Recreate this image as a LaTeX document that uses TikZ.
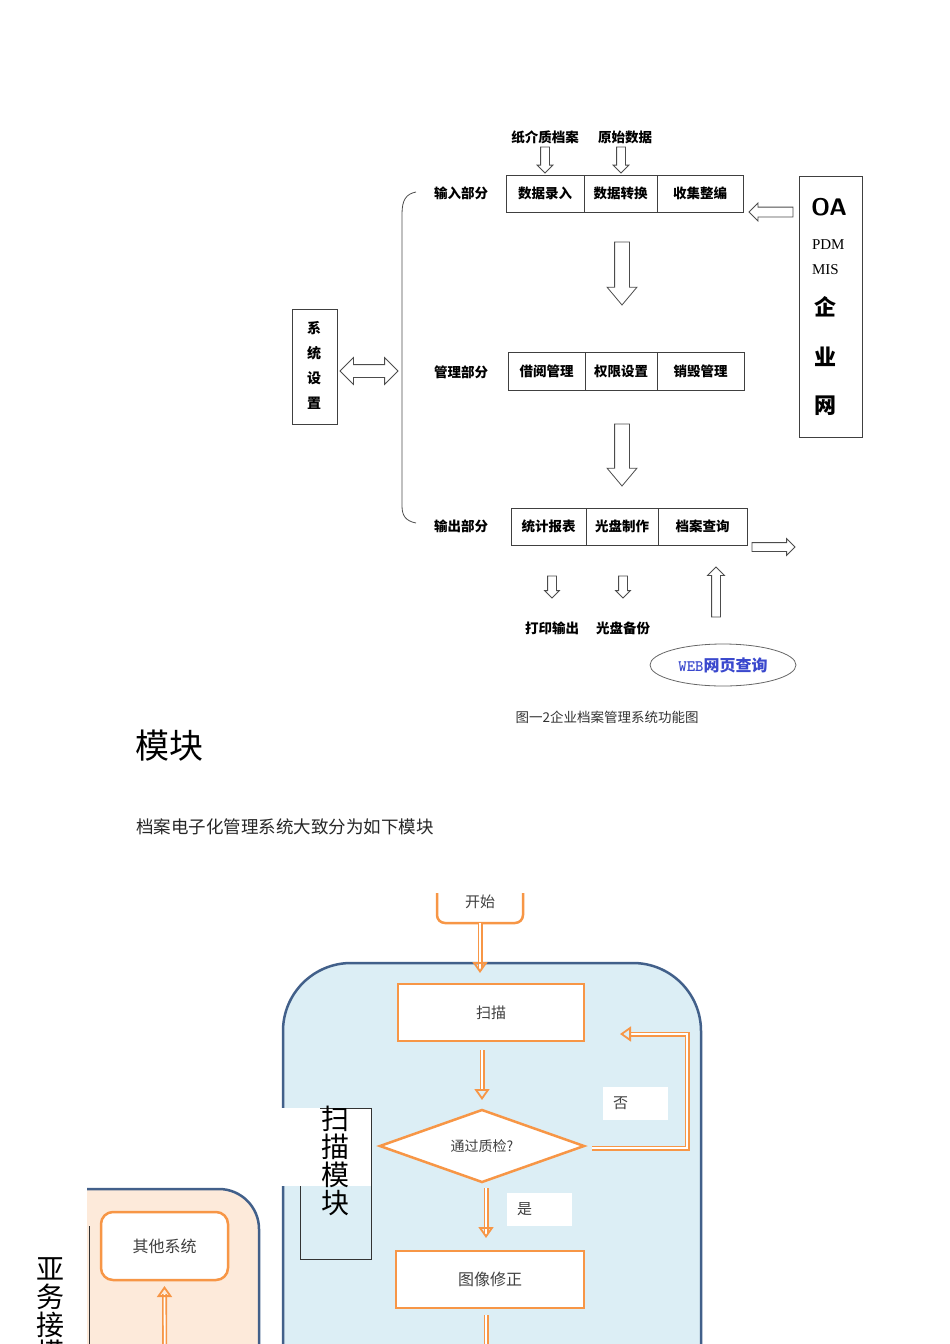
\documentclass[tikz,border=0pt]{standalone}
\usepackage{fontspec}
\setmainfont{Noto Sans CJK SC}
\newfontfamily\latinserif{Liberation Serif}
\usetikzlibrary{arrows.meta, positioning, shapes.arrows, shapes.geometric}

\definecolor{flowOrange}{RGB}{247,150,70}
\definecolor{moduleBlue}{RGB}{220,238,245}
\definecolor{moduleEdge}{RGB}{66,96,138}
\definecolor{modulePink}{RGB}{253,234,218}
\definecolor{webBlue}{RGB}{58,72,205}

\newcommand{\fsz}[1]{\fontsize{#1}{#1}\selectfont}

\begin{document}
\begin{tikzpicture}[
        x = 1pt, y = -1pt,
        every node/.style = {inner sep = 0pt, outer sep = 0pt},
        cell/.style = {draw = black!75, thick, minimum height = 37pt, font = \fsz{13.5}\bfseries},
        part/.style = {font = \fsz{13.5}\bfseries},
        hollow/.style 2 args = {single arrow, draw = black!70, thick, fill = white,
            inner sep = #1, minimum width = 0pt, single arrow head extend = #2},
        flowbox/.style = {draw = flowOrange, line width = 2.5pt, fill = white},
        flowtext/.style = {font = \fsz{15}, text = black!75},
        flowline/.style = {draw = flowOrange, double = white, double distance = 1.8pt, line width = 1.6pt},
        flowtip/.style = {-{Triangle[open, length = 11pt, width = 15pt, line width = 1.8pt]}},
        tag/.style = {fill = white, minimum width = 65pt, minimum height = 33pt, text width = 45pt,
            inner xsep = 10pt, align = left, font = \fsz{15}, text = black!75},
        vertical/.style = {align = center, font = \fontsize{28}{28}\selectfont}
    ]
  % page
  \useasboundingbox (0,0) rectangle (950,1344);
  \clip (0,0) rectangle (950,1344);

  % --- function diagram ---
  \node[part] (paper) at (545,137) {纸介质档案};
  \node[part] (raw) at (625,137) {原始数据};
  \node[hollow={4pt}{3.5pt}, minimum height = 26pt, rotate = -90, anchor = tail] (paperIn) at (545,147) {};
  \node[hollow={4pt}{3.5pt}, minimum height = 26pt, rotate = -90, anchor = tail] (rawIn) at (621,147) {};

  \node[part] (inPart) at (461,193) {输入部分};
  \node[cell, minimum width = 78pt, anchor = north west] (entry) at (506,175) {数据录入};
  \node[cell, minimum width = 73pt, right = 0pt of entry] (convert) {数据转换};
  \node[cell, minimum width = 86pt, right = 0pt of convert] (collect) {收集整编};

  \node[part] (mgPart) at (461,372) {管理部分};
  \node[cell, minimum width = 77pt, minimum height = 38pt, anchor = north west] (lend) at (508,352) {借阅管理};
  \node[cell, minimum width = 72pt, minimum height = 38pt, right = 0pt of lend] (rights) {权限设置};
  \node[cell, minimum width = 87pt, minimum height = 38pt, right = 0pt of rights] (destroy) {销毁管理};

  \node[part] (outPart) at (461,526) {输出部分};
  \node[cell, minimum width = 75pt, minimum height = 37pt, anchor = north west] (report) at (511,508) {统计报表};
  \node[cell, minimum width = 72pt, minimum height = 37pt, right = 0pt of report] (disc) {光盘制作};
  \node[cell, minimum width = 89pt, minimum height = 37pt, right = 0pt of disc] (query) {档案查询};

  % stage arrows
  \node[hollow={7pt}{7.5pt}, minimum height = 63pt, rotate = -90, anchor = tail, single arrow tip angle = 80] (inToMg) at (622,242) {};
  \node[hollow={7pt}{7.5pt}, minimum height = 62pt, rotate = -90, anchor = tail, single arrow tip angle = 80] (mgToOut) at (622,424) {};

  % brace
  \draw[black!70, thick] (416,192) .. controls (406,194) and (402,200) .. (402,214)
    -- (402,506) .. controls (402,516) and (406,521) .. (416,523);

  % system settings
  \node[draw = black!75, thick, minimum width = 45pt, minimum height = 115pt, anchor = north west] (sys) at (292,309) {};
  \foreach \ch [count = \i] in {系,统,设,置}
    \node[font = \fsz{14}\bfseries] (sys\i) at (314,303+25*\i) {\ch};
  \node[double arrow, draw = black!70, thick, fill = white, inner sep = 6pt, minimum width = 0pt,
    double arrow head extend = 7pt, minimum height = 58pt] (sysLink) at (369,371) {};

  % OA box
  \node[draw = black!75, thick, minimum width = 63pt, minimum height = 261pt, anchor = north west] (oa) at (799,176) {};
  \node[font = \fsz{24}\sffamily\bfseries] (oaTxt) at (829,207) {OA};
  \node[font = \fsz{15}\latinserif, anchor = west] (pdm) at (812,245) {PDM};
  \node[font = \fsz{15}\latinserif, anchor = west] (mis) at (812,270) {MIS};
  \foreach \ch/\yy [count = \i] in {企/307, 业/357, 网/406}
    \node[font = \fsz{22}\bfseries] (net\i) at (825,\yy) {\ch};
  \node[hollow={4.5pt}{4pt}, minimum height = 44pt, rotate = 180, anchor = tail] (oaIn) at (793,212) {};

  % output side
  \node[hollow={4pt}{4pt}, minimum height = 43pt, anchor = tail] (outGo) at (752,547) {};
  \node[hollow={4pt}{3pt}, minimum height = 22pt, rotate = -90, anchor = tail] (printDown) at (552,576) {};
  \node[hollow={4pt}{3pt}, minimum height = 22pt, rotate = -90, anchor = tail] (discDown) at (623,576) {};
  \node[part] (print) at (552,628) {打印输出};
  \node[part] (backup) at (623,628) {光盘备份};
  \node[ellipse, draw = black!60, thick, minimum width = 146pt, minimum height = 42pt,
    font = \fsz{16}\bfseries, text = webBlue] (web) at (723,665) {{\ttfamily WEB}网页查询};
  \node[hollow={4pt}{4pt}, minimum height = 50pt, rotate = 90, anchor = tail] (webUp) at (716,617) {};

  \node[font = \fsz{13.5}, text = black!80] (caption) at (607,717) {图一2企业档案管理系统功能图};

  % --- text ---
  \node[font = \fsz{34}, anchor = west] (heading) at (135,746) {模块};
  \node[font = \fsz{17.5}, anchor = west, text = black!85] (intro) at (136,827) {档案电子化管理系统大致分为如下模块};

  % --- module flow chart ---
  \begin{scope}
    \clip (0,893) rectangle (950,1344);
    % interface module
    \fill[modulePink] (87,1400) -- (87,1189) -- (219,1189) .. controls (241,1189) and (259,1207) .. (259,1229) -- (259,1400) -- cycle;
    \draw[moduleEdge, line width = 2.5pt] (87,1189) -- (219,1189) .. controls (241,1189) and (259,1207) .. (259,1229) -- (259,1400);
    \draw[black!80] (89,1226) -- (89,1400);
    \node[vertical] (ifLabel) at (50,1312) {亚\\务\\接\\模};
    \node[flowbox, rounded corners = 12pt, minimum width = 127pt, minimum height = 68pt, anchor = north west] (other) at (101,1212) {};
    \node[flowtext, font = \fsz{16}] (otherTxt) at (other) {其他系统};
    \coordinate (otherIn) at (165,1400);
    \draw[flowline] (otherIn) -- ([yshift = -14pt]other.south);
    \draw[flowline, flowtip] ([yshift = -16pt]other.south) -- ([yshift = -6pt]other.south);

    % scan module
    \path[fill = moduleBlue, draw = moduleEdge, line width = 2.5pt, rounded corners = 68pt]
      (283,1420) -- (283,963) -- (701,963) -- (701,1420);
    \node[flowbox, rounded corners = 8pt, minimum width = 86pt, minimum height = 70pt, anchor = south] (start) at (480,923) {};
    \node[flowtext] (startTxt) at (480,902) {开始};
    \node[flowbox, minimum width = 186pt, minimum height = 57pt, anchor = north west] (scan) at (398,984) {};
    \node[flowtext] (scanTxt) at (scan) {扫描};
    \node[flowbox, diamond, aspect = 2.8, minimum width = 204pt, minimum height = 72pt] (qc) at (482,1146) {};
    \node[flowtext, font = \fsz{14}] (qcTxt) at (qc) {通过质检?};
    \node[flowbox, minimum width = 188pt, minimum height = 57pt, anchor = north west] (fix) at (396,1251) {};
    \node[flowtext, font = \fsz{16}] (fixTxt) at (fix) {图像修正};
    \node[tag, anchor = north west] (no) at (603,1087) {否};
    \node[tag, anchor = north west] (yes) at (507,1193) {是};

    % connectors
    \coordinate (scanIn) at (start.south |- scan.north);
    \coordinate (qcIn) at (scan.south -| qc.north);
    \coordinate (fixIn) at (486,1251);
    \draw[flowline] (start.south) -- ([yshift = 16pt]scanIn);
    \draw[flowline, flowtip] ([yshift = 20pt]scanIn) -- ([yshift = 11pt]scanIn);
    \draw[flowline] ([yshift = -9pt]qcIn) -- ([yshift = -49pt]qcIn);
    \draw[flowline, flowtip] ([yshift = -45pt]qcIn) -- ([yshift = -59pt]qcIn);
    \draw[flowline] ([yshift = 63pt]fixIn) -- ([yshift = 17pt]fixIn);
    \draw[flowline, flowtip] ([yshift = 22pt]fixIn) -- ([yshift = 13pt]fixIn);
    \coordinate (fixOut) at (486,1400);
    \draw[flowline] ([yshift = -64pt]fixIn) -- (fixOut);
    \coordinate (loopTop) at (687,1034);
    \draw[flowline] ([xshift = 8pt, yshift = -2pt]qc.east) -| (loopTop) -- (630,1034);
    \draw[flowline, flowtip] (632,1034) -- (620,1034);

    % scan module label
    \fill[white] (281,1108) rectangle (371,1186);
    \draw[black!80] (300,1186) -- (300,1259) -- (371,1259) -- (371,1108) -- (320,1108);
    \node[vertical] (scanLabel) at (335,1161) {扫\\描\\模\\块};
  \end{scope}
\end{tikzpicture}
\end{document}
